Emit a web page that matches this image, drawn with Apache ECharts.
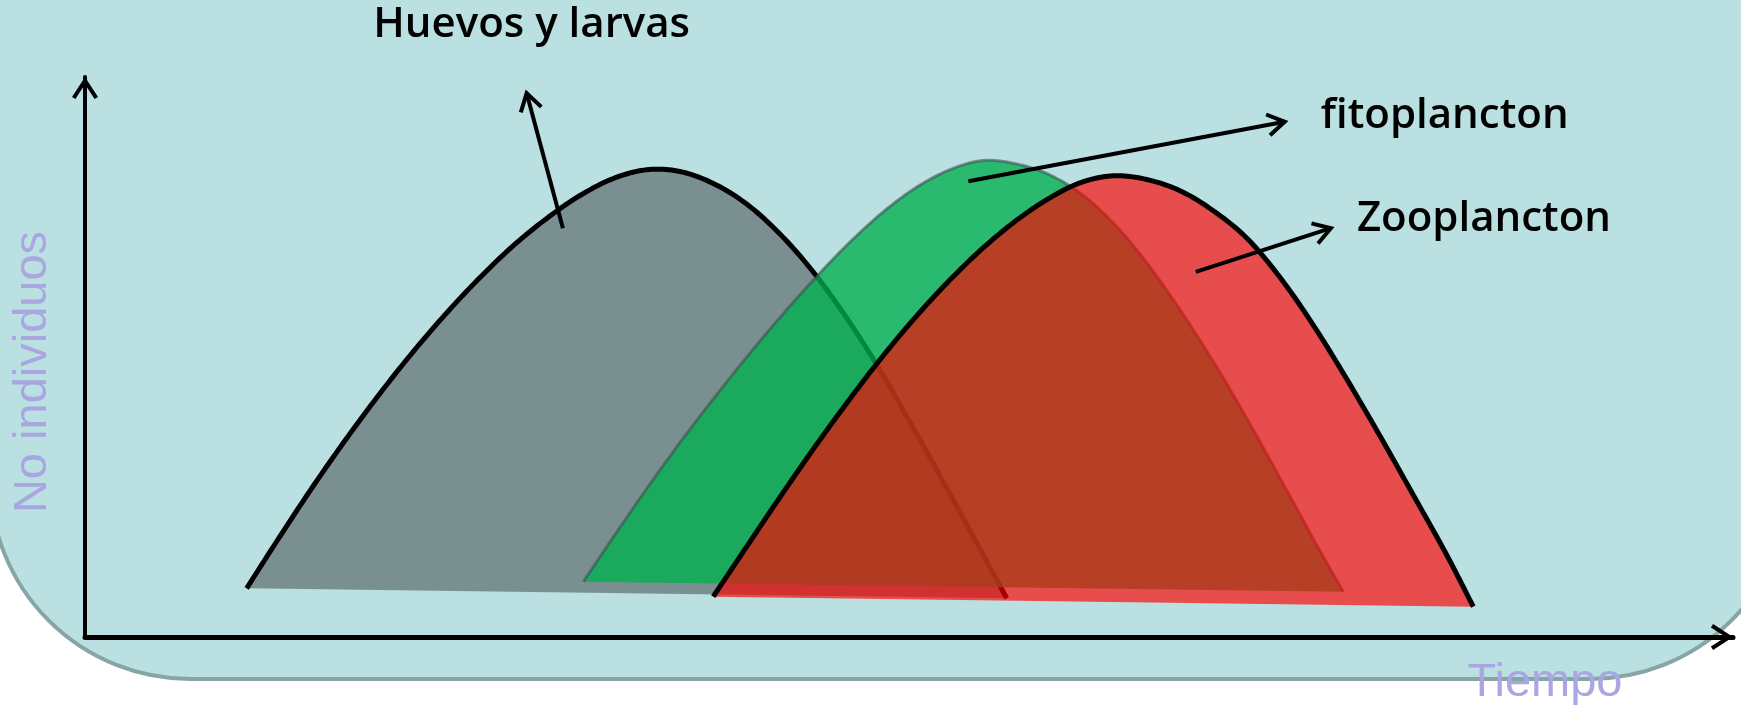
<!DOCTYPE html>
<html>
<head>
<meta charset="utf-8">
<title>Huevos y larvas, fitoplancton y zooplancton</title>
<script src="https://cdn.jsdelivr.net/npm/echarts@6/dist/echarts.min.js"></script>
<style>
  html, body { margin: 0; padding: 0; background: #ffffff; }
  #chart { width: 1741px; height: 705px; }
</style>
</head>
<body>
<div id="chart"></div>
<script>
// Abundance over time (relative units, 0-100 on both axes)
const huevosX = [9.81, 11.83, 13.85, 15.88, 17.90, 19.92, 21.95, 23.97, 25.99, 28.02, 30.04, 32.06, 34.08,
                 36.10, 38.13, 40.15, 42.17, 44.19, 46.22, 48.24, 50.26, 52.29, 54.31, 55.93];
const huevosY = [8.70, 17.98, 26.96, 35.50, 43.50, 50.96, 57.89, 64.20, 69.88, 74.75, 78.84, 81.88, 83.43,
                 83.13, 80.98, 77.32, 71.96, 65.18, 56.96, 47.68, 37.32, 26.61, 15.71, 6.91];

const fitoX = [30.24, 32.26, 34.28, 36.30, 38.33, 40.35, 42.37, 44.40, 46.42, 48.44, 50.47, 52.49, 54.51,
               56.54, 58.56, 60.58, 62.60, 64.62, 66.64, 68.67, 70.69, 72.71, 74.74, 76.35];
const fitoY = [9.88, 18.71, 27.29, 35.50, 43.27, 50.68, 57.73, 64.39, 70.52, 75.93, 80.34, 83.46, 85.09,
               84.46, 82.50, 78.84, 73.30, 66.07, 57.59, 48.21, 38.04, 27.32, 16.43, 8.09];

const zooX = [38.12, 40.15, 42.17, 44.19, 46.22, 48.24, 50.26, 52.29, 54.31, 56.33, 58.36, 60.38, 62.40,
              64.42, 66.44, 68.46, 70.49, 72.51, 74.53, 76.56, 78.58, 80.60, 82.63, 84.24];
const zooY = [7.20, 16.13, 24.96, 33.54, 41.75, 49.52, 56.66, 63.18, 68.98, 73.98, 78.09, 81.11, 82.36,
              81.70, 79.70, 76.13, 71.25, 64.23, 55.71, 46.07, 35.89, 25.36, 14.64, 5.41];

// Callout labels and the arrows pointing from each curve to them (data units)
const labels = ['Huevos y larvas', 'fitoplancton', 'Zooplancton'];
const arrowFromX = [29.0, 53.6, 67.4];
const arrowFromY = [73.0, 81.4, 65.2];
const arrowToX = [26.8, 72.8, 75.6];
const arrowToY = [97.1, 92.0, 73.0];

const axisTitleX = 'Tiempo';
const axisTitleY = 'No individuos';

// Label placement relative to each arrow tip: [dx, dy, align]
const labelPlacement = [[5, -68, 'center'], [36, -6, 'left'], [26, -9, 'left']];

// Open chevron used as the axis arrowhead (points up, tip at top)
const chevronPath = 'path://M13,0 L26,20 L22.6,22.2 L13,7.4 L3.4,22.2 L0,20 Z';

const chart = echarts.init(document.getElementById('chart'), null, { renderer: 'canvas' });

// Catmull-Rom pass through the projected points so the outline is drawn as a smooth curve
function smoothThrough(pts, steps) {
  const out = [pts[0]];
  const n = pts.length;
  for (let i = 0; i < n - 1; i++) {
    const p0 = pts[Math.max(i - 1, 0)], p1 = pts[i], p2 = pts[i + 1], p3 = pts[Math.min(i + 2, n - 1)];
    for (let s = 1; s <= steps; s++) {
      const t = s / steps, t2 = t * t, t3 = t2 * t;
      const pt = [0, 1].map(k => 0.5 * (2 * p1[k] + (p2[k] - p0[k]) * t +
        (2 * p0[k] - 5 * p1[k] + 4 * p2[k] - p3[k]) * t2 +
        (3 * p1[k] - p0[k] - 3 * p2[k] + p3[k]) * t3));
      out.push(pt);
    }
  }
  return out;
}

// One filled shape per population: the curve, closed by a straight chord between its ends
function curveSeries(name, xs, ys, fill, stroke, width) {
  return {
    type: 'custom',
    name: name,
    coordinateSystem: 'cartesian2d',
    data: xs.map((x, i) => [x, ys[i]]),
    encode: { x: 0, y: 1 },
    clip: false,
    silent: true,
    renderItem: function (params, api) {
      if (params.dataIndex !== 0) return null;
      const pts = xs.map((x, i) => api.coord([x, ys[i]]));
      return {
        type: 'polyline',
        shape: { points: smoothThrough(pts, 12) },
        style: { fill: fill, stroke: stroke, lineWidth: width, lineJoin: 'round' }
      };
    }
  };
}

const arrowSeries = {
  type: 'custom',
  name: 'callouts',
  coordinateSystem: 'cartesian2d',
  data: arrowToX.map((x, i) => [x, arrowToY[i]]),
  encode: { x: 0, y: 1 },
  clip: false,
  silent: true,
  z: 5,
  renderItem: function (params, api) {
    const i = params.dataIndex;
    const s = api.coord([arrowFromX[i], arrowFromY[i]]);
    const t = api.coord([arrowToX[i], arrowToY[i]]);
    const back = Math.atan2(s[1] - t[1], s[0] - t[0]);
    const len = 20, half = 32 * Math.PI / 180;
    const a1 = [t[0] + len * Math.cos(back + half), t[1] + len * Math.sin(back + half)];
    const a2 = [t[0] + len * Math.cos(back - half), t[1] + len * Math.sin(back - half)];
    const p = labelPlacement[i];
    return {
      type: 'group',
      children: [
        { type: 'line', shape: { x1: s[0], y1: s[1], x2: t[0], y2: t[1] },
          style: { stroke: '#000', lineWidth: 4 } },
        { type: 'polyline', shape: { points: [a1, t, a2] },
          style: { stroke: '#000', lineWidth: 4, fill: null, lineJoin: 'miter' } },
        { type: 'text', x: t[0] + p[0], y: t[1] + p[1],
          style: { text: labels[i], fill: '#000', fontSize: 42, fontFamily: '"Open Sans", sans-serif',
                   fontWeight: 600, align: p[2], verticalAlign: 'middle' } }
      ]
    };
  }
};

const option = {
  backgroundColor: '#ffffff',
  animation: false,
  grid: { left: 85, right: 8, top: 77, bottom: 68, containLabel: false, outerBoundsMode: 'none' },
  xAxis: {
    type: 'value', min: 0, max: 100,
    splitLine: { show: false }, axisTick: { show: false }, axisLabel: { show: false },
    axisLine: { show: true, onZero: false, lineStyle: { color: '#000', width: 5 },
                symbol: ['none', chevronPath], symbolSize: [26, 22.2], symbolOffset: [0, -11] }
  },
  yAxis: {
    type: 'value', min: 0, max: 100,
    splitLine: { show: false }, axisTick: { show: false }, axisLabel: { show: false },
    axisLine: { show: true, onZero: false, lineStyle: { color: '#000', width: 4 },
                symbol: ['none', chevronPath], symbolSize: [26, 22.2], symbolOffset: [0, -11] }
  },
  graphic: {
    elements: [
      { type: 'rect', z: -10, silent: true,
        shape: { x: -10, y: -250, width: 1800, height: 929, r: 200 },
        style: { fill: '#BAE0E2', stroke: '#88A5A6', lineWidth: 4 } },
      { type: 'text', z: 100, silent: true, x: 1545, y: 683,
        style: { text: axisTitleX, fill: '#A9A6E1', fontSize: 47, fontFamily: '"Liberation Sans", Arial, sans-serif',
                 align: 'center', verticalAlign: 'middle' } },
      { type: 'text', z: 100, silent: true, x: 33, y: 372, rotation: Math.PI / 2,
        style: { text: axisTitleY, fill: '#A9A6E1', fontSize: 47, fontFamily: '"Liberation Sans", Arial, sans-serif',
                 align: 'center', verticalAlign: 'middle' } }
    ]
  },
  series: [
    curveSeries('Huevos y larvas', huevosX, huevosY, '#7A9090', '#000000', 5),
    curveSeries('fitoplancton', fitoX, fitoY, 'rgba(0,176,80,0.78)', 'rgba(60,80,80,0.6)', 3),
    curveSeries('Zooplancton', zooX, zooY, 'rgba(255,0,0,0.66)', '#000000', 5),
    arrowSeries
  ]
};

chart.setOption(option);
</script>
</body>
</html>
